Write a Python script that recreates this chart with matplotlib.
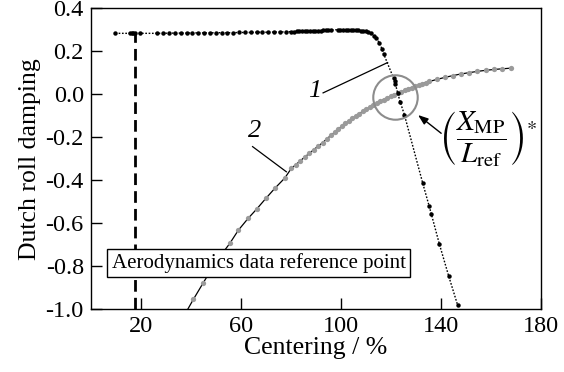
"""Dutch roll damping vs centering: curves 1 and 2 with the reference point."""

import matplotlib
matplotlib.use("Agg")
import matplotlib.pyplot as plt

# curve 1 (black dots, dotted line)
C1_X = [9.8, 15.5, 16.3, 17.0, 17.8, 19.5, 26.6, 28.9, 31.3, 33.6, 35.9, 38.3,
        40.6, 42.9, 45.3, 47.6, 49.9, 52.3, 54.6, 56.9, 59.3, 61.6, 63.9, 66.3,
        68.6, 70.9, 73.3, 75.6, 77.9, 80.2, 81.3, 82.3, 83.4, 84.5, 85.5, 86.6,
        87.6, 88.7, 89.8, 90.8, 91.9, 92.9, 94.0, 95.0, 96.0, 98.7, 99.8, 100.8,
        101.9, 102.9, 104.0, 105.0, 106.0, 107.0, 108.0, 109.0, 110.0, 111.0,
        112.0, 113.3, 114.1, 115.4, 116.5, 117.2, 121.1, 121.5, 121.8, 122.7,
        123.7, 125.4, 132.7, 135.3, 136.2, 139.4, 143.1, 146.7]
C1_Y = [0.283, 0.283, 0.283, 0.283, 0.283, 0.283, 0.283, 0.283, 0.284, 0.284,
        0.284, 0.284, 0.285, 0.285, 0.285, 0.285, 0.286, 0.286, 0.286, 0.286,
        0.287, 0.287, 0.287, 0.288, 0.288, 0.288, 0.289, 0.289, 0.290, 0.291,
        0.291, 0.292, 0.292, 0.293, 0.293, 0.294, 0.294, 0.295, 0.295, 0.296,
        0.296, 0.297, 0.297, 0.298, 0.298, 0.300, 0.300, 0.300, 0.300, 0.300,
        0.300, 0.299, 0.299, 0.298, 0.296, 0.294, 0.292, 0.289, 0.284, 0.272,
        0.260, 0.240, 0.209, 0.185, 0.074, 0.060, 0.048, 0.007, -0.035, -0.095,
        -0.412, -0.52, -0.558, -0.697, -0.845, -0.981]

# curve 2 (grey dots on a thin black line)
C2_X = [38.8, 41.0, 45.0, 48.5, 52.0, 55.6, 59.0, 62.9, 66.3, 70.0, 73.6, 77.6,
        80.2, 82.0, 83.8, 85.6, 87.4, 89.2, 91.0, 92.8, 94.5, 96.2, 97.6, 99.0,
        100.4, 101.8, 103.2, 104.6, 106.0, 107.4, 108.8, 110.2, 111.6, 113.0,
        114.4, 115.8, 117.2, 118.6, 120.0, 121.4, 122.8, 124.2, 125.6, 127.0,
        128.4, 129.8, 131.2, 132.6, 134.0, 135.4, 138.5, 141.6, 144.7, 148.0,
        151.3, 154.6, 158.0, 161.3, 164.6, 168.0]
C2_Y = [-1.0, -0.955, -0.877, -0.81, -0.75, -0.694, -0.633, -0.578, -0.535,
        -0.485, -0.438, -0.39, -0.345, -0.328, -0.310, -0.292, -0.275, -0.258,
        -0.241, -0.225, -0.207, -0.190, -0.176, -0.162, -0.149, -0.136, -0.124,
        -0.112, -0.101, -0.090, -0.080, -0.070, -0.060, -0.051, -0.042, -0.033,
        -0.025, -0.017, -0.010, -0.003, 0.004, 0.011, 0.018, 0.025, 0.031,
        0.037, 0.043, 0.049, 0.054, 0.059, 0.069, 0.078, 0.086, 0.094, 0.100,
        0.106, 0.111, 0.115, 0.118, 0.121]

REF_X = 17.5          # aerodynamics data reference point
CROSS = (121.8, -0.012)

X_TICKS = [20, 60, 100, 140, 180]
Y_TICKS = [-1.0, -0.8, -0.6, -0.4, -0.2, 0.0, 0.2, 0.4]


def main() -> None:
    plt.rcParams["font.family"] = ["Liberation Serif", "DejaVu Serif"]
    plt.rcParams["mathtext.fontset"] = "stix"
    plt.rcParams["axes.unicode_minus"] = False

    fig = plt.figure(figsize=(5.64, 3.72), dpi=100)
    ax = fig.add_axes([0.161, 0.169, 0.798, 0.809])

    ax.plot([REF_X, REF_X], [-1.0, C1_Y[0]], color="black", lw=2.0,
            dashes=(4.2, 2.2), zorder=2)

    ax.plot(C2_X, C2_Y, color="black", lw=0.9, zorder=3)
    ax.plot(C2_X[1:], C2_Y[1:], "o", color="#9a9a9a", ms=3.8, mew=0, zorder=3)

    ax.plot(C1_X, C1_Y, color="black", lw=1.0, ls=(0, (1.2, 1.2)), zorder=4)
    ax.plot(C1_X, C1_Y, "o", color="black", ms=3.2, mew=0, zorder=4)

    ax.plot(*CROSS, "o", mfc="none", mec="#8c8c8c", mew=1.5, ms=32, zorder=5)

    ax.text(67.1, -0.784, "Aerodynamics data reference point", fontsize=15,
            ha="center", va="center", zorder=6,
            bbox=dict(boxstyle="square,pad=0.2", fc="white", ec="black", lw=1.0))

    # labels of the curves
    ax.text(89.5, 0.015, "1", fontsize=19, style="italic", ha="center", va="center")
    ax.plot([92.9, 118.7], [0.006, 0.147], color="black", lw=0.9)
    ax.text(65.5, -0.17, "2", fontsize=19, style="italic", ha="center", va="center")
    ax.plot([64.7, 78.2], [-0.244, -0.361], color="black", lw=0.9)

    ax.annotate("", xy=(130.0, -0.089), xytext=(141.0, -0.19),
                arrowprops=dict(arrowstyle="-|>,head_length=0.6,head_width=0.22",
                                color="black", lw=1.0))
    ax.text(159.0, -0.205, r"$\left(\dfrac{X_{\mathrm{MP}}}{L_{\mathrm{ref}}}\right)^{*}$",
            fontsize=21, ha="center", va="center")

    ax.set_xlim(0, 180)
    ax.set_ylim(-1.0, 0.4)
    ax.set_xticks(X_TICKS)
    ax.set_yticks(Y_TICKS)
    ax.set_yticklabels([f"{v:.1f}" for v in Y_TICKS])
    ax.tick_params(direction="in", length=8, width=1, labelsize=17.5, pad=5)
    ax.set_xlabel("Centering / %", fontsize=18.5, labelpad=0)
    ax.set_ylabel("Dutch roll damping", fontsize=18.5, labelpad=3)
    for sp in ax.spines.values():
        sp.set_linewidth(1.0)

    fig.savefig("out.png", dpi=100)


if __name__ == "__main__":
    main()
